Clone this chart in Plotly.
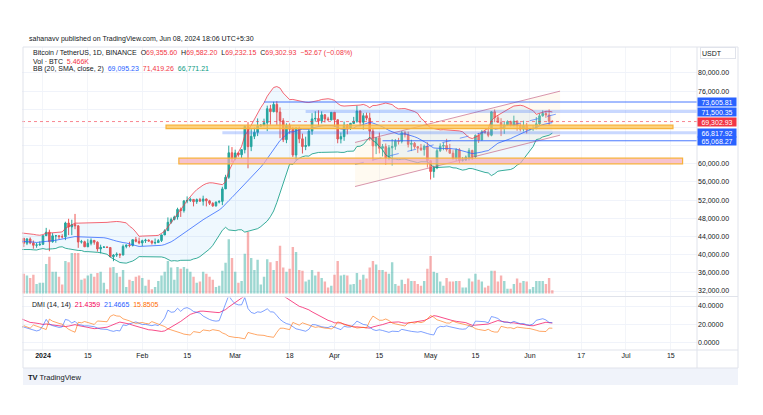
import numpy as np
import pandas as pd
import plotly.graph_objects as go

# ---------------- DATA (BTC/USDT daily, Binance) ----------------
start_date = "2023-11-15"

opens = [
    35540, 37880, 36160, 36590, 36590, 37380, 37470, 35760, 37420, 37290, 37720, 37800, 37450, 37240, 37830, 37860,
    37710, 38690, 39460, 39970, 41990, 44080, 43780, 43290, 44170, 43720, 43790, 41240, 41450, 42890, 43020, 41940,
    42260, 41370, 42660, 42270, 43650, 43860, 43990, 43740, 43020, 43610, 42520, 43440, 42580, 42070, 42140,
    42280, 44180, 44950, 42850, 44150, 44160, 43970, 43930, 46970, 46110, 46630, 46340, 42780, 42840, 41730, 42510,
    43140, 42740, 41260, 41620, 41660, 41580, 39560, 39900, 40080, 39930, 41820, 42120, 42030, 43300, 42940,
    42580, 43080, 43190, 43000, 42580, 42660, 43090, 44340, 45290, 47130, 47750, 48290, 49960, 49700, 51820, 51930,
    52160, 51660, 52120, 51780, 52260, 51850, 51300, 50740, 51570, 51730, 54480, 57040, 62430,
    61130, 62390, 61990, 63110, 68250, 63780, 66050, 66920, 68300, 68490, 69020, 72120, 71480, 73080, 71390, 69500,
    65300, 68390, 67610, 61940, 67840, 65500, 63800, 64020, 67210, 69880, 69990, 69450, 70780, 69890, 69660,
    71330, 69700, 65460, 65980, 68510, 67840, 68900, 69360, 71620, 69140, 70590, 70060, 67180, 63930, 65740, 63420,
    63790, 61280, 63510, 63840, 64990, 64940, 66840, 66410, 64280, 64500, 63770, 63460, 63120, 63860,
    60670, 58300, 59120, 62890, 63890, 64030, 63160, 62330, 61190, 63070, 60790, 60830, 61480, 62940, 61580, 66270,
    65230, 67050, 66940, 66280, 71450, 70140, 69120, 67930, 68530, 69280, 68500, 69400, 68370, 67630, 68350,
    67490, 67760, 67760, 68800, 70570, 71080, 70760, 69355.60,
]
highs = [
    37980, 37930, 36850, 36850, 37530, 37750, 37650, 37850, 37650, 38430, 37890, 37820, 37560, 38380, 38170, 38150,
    38970, 39650, 40210, 42410, 44490, 44300, 44050, 44700, 44370, 44040, 43850, 42100, 43430, 43400, 43090, 42720,
    42430, 42760, 43500, 44280, 44240, 44390, 43990, 43950, 43800, 43610, 43680, 43800, 43120, 42600, 42900,
    44180, 45900, 45500, 44730, 44340, 44230, 44500, 47250, 47900, 47700, 48970, 46500, 43250, 43070, 43400, 43580,
    43200, 42930, 42200, 41870, 41860, 41680, 40130, 40500, 40300, 42230, 42200, 42840, 43300, 43880, 43750,
    43290, 43500, 43380, 43120, 43550, 43420, 44400, 45600, 48200, 48170, 48590, 50330, 50370, 52040, 52820, 52570,
    52200, 52360, 52490, 52980, 52370, 52060, 51550, 51700, 51960, 54940, 57580, 64000, 63680,
    63110, 62430, 63230, 68500, 69170, 67640, 67970, 69990, 68700, 69940, 72800, 72970, 73650, 73780, 72420, 70040,
    68900, 68900, 68120, 68100, 68200, 66650, 65970, 67620, 71150, 71560, 71770, 71550, 70920, 70350, 71370,
    71340, 69710, 66900, 69290, 68720, 69000, 70330, 72800, 71760, 71170, 71260, 71230, 67930, 65840, 66870, 64360,
    64470, 64130, 65450, 65450, 65720, 67230, 67200, 67080, 65300, 64800, 63920, 64370, 64230, 64740,
    60780, 59600, 63330, 64500, 64650, 65500, 64390, 62990, 63410, 63450, 61490, 61820, 63450, 63100, 66450, 66800,
    67450, 67400, 67700, 71520, 71980, 70620, 70040, 69200, 69570, 69510, 70600, 69560, 68900, 69500, 69000,
    67860, 68460, 70280, 71060, 71760, 71630, 71990, 69582.20,
]
lows = [
    35360, 35500, 35870, 36160, 36300, 36700, 35630, 35660, 36870, 37250, 37600, 37150, 36750, 36870, 37570, 37500,
    37610, 38650, 39270, 39970, 41410, 43340, 42840, 43080, 43580, 43570, 40220, 40680, 40560, 41720, 41670, 41650,
    41250, 40530, 41800, 42170, 43290, 43400, 43300, 42770, 42720, 41680, 42100, 42300, 41300, 41520, 41970,
    42180, 44150, 40750, 42630, 42630, 43400, 43600, 43200, 44300, 44300, 45600, 41500, 42440, 41720, 41720, 42050,
    42200, 40680, 40280, 41470, 41450, 39430, 38560, 39500, 39260, 39820, 41400, 41620, 41800, 42700, 42280,
    41880, 42580, 42890, 42220, 42260, 42580, 42790, 44330, 45240, 46800, 47540, 47710, 48300, 49260, 51310, 51600,
    50630, 51170, 51680, 50800, 50620, 50930, 50520, 50580, 51280, 50900, 54450, 56690, 60360,
    60780, 61560, 61310, 62300, 59010, 62790, 65440, 66100, 68120, 68230, 67190, 68620, 71330, 68560, 65630, 64780,
    64540, 66600, 61500, 60780, 64530, 62260, 63000, 63790, 66380, 69280, 68380, 68900, 69100, 69580, 69570,
    68100, 64520, 64490, 65060, 66480, 67450, 68820, 69040, 68210, 67520, 69560, 65100, 60660, 62130, 62300, 61620,
    59770, 60800, 59600, 63080, 64240, 64500, 65800, 63600, 62800, 63300, 62400, 62810, 61800, 59190,
    56550, 56940, 58810, 62590, 62990, 62700, 62270, 60890, 60640, 60190, 60490, 60630, 60750, 60880, 61330, 64600,
    65110, 66600, 65860, 66060, 69160, 68980, 66100, 66600, 68500, 68220, 68230, 67270, 67130, 67120, 66670,
    67390, 67260, 67610, 68550, 70380, 70120, 68500, 69232.15,
]
closes = [
    37880, 36160, 36590, 36590, 37380, 37470, 35760, 37420, 37290, 37720, 37800, 37450, 37240, 37830, 37860, 37710,
    38690, 39460, 39970, 41990, 44080, 43780, 43290, 44170, 43720, 43790, 41240, 41450, 42890, 43020, 41940, 42260,
    41370, 42660, 42270, 43650, 43860, 43990, 43740, 43020, 43610, 42520, 43440, 42580, 42070, 42140, 42280,
    44180, 44950, 42850, 44150, 44160, 43970, 43930, 46970, 46110, 46630, 46340, 42780, 42840, 41730, 42510, 43140,
    42740, 41260, 41620, 41660, 41580, 39560, 39900, 40080, 39930, 41820, 42120, 42030, 43300, 42940, 42580,
    43080, 43190, 43000, 42580, 42660, 43090, 44340, 45290, 47130, 47750, 48290, 49960, 49700, 51820, 51930, 52160,
    51660, 52120, 51780, 52260, 51850, 51300, 50740, 51570, 51730, 54480, 57040, 62430, 61130,
    62390, 61990, 63110, 68250, 63780, 66050, 66920, 68300, 68490, 69020, 72120, 71480, 73080, 71390, 69500, 65300,
    68390, 67610, 61940, 67840, 65500, 63800, 64020, 67210, 69880, 69990, 69450, 70780, 69890, 69660, 71330,
    69700, 65460, 65980, 68510, 67840, 68900, 69360, 71620, 69140, 70590, 70060, 67180, 63930, 65740, 63420, 63790,
    61280, 63510, 63840, 64990, 64940, 66840, 66410, 64280, 64500, 63770, 63460, 63120, 63860, 60670,
    58300, 59120, 62890, 63890, 64030, 63160, 62330, 61190, 63070, 60790, 60830, 61480, 62940, 61580, 66270, 65230,
    67050, 66940, 66280, 71450, 70140, 69120, 67930, 68530, 69280, 68500, 69400, 68370, 67630, 68350, 67490,
    67760, 67760, 68800, 70570, 71080, 70760, 69355.60, 69302.93,
]

volume_start = "2023-12-26"
volumes_k = [
    33, 30, 26, 31, 16, 18,
    18, 49, 61, 36, 36, 28, 15, 54, 52, 67, 67, 67, 23, 25, 30, 33, 28, 34, 36, 18, 7, 43, 44, 34, 28, 39, 11, 23, 21, 28, 30,
    26, 13, 23, 7, 11, 21, 30, 36, 54, 43, 23, 44, 41, 44, 41, 36, 28, 18, 20, 36, 33, 28, 23, 11, 13, 38, 51, 90, 59,
    36, 18, 21, 66, 102, 59, 39, 56, 15, 28, 57, 52, 39, 54, 79, 43, 36, 41, 77, 69, 39, 38, 20, 23, 39, 30, 36, 26, 20, 10, 13,
    31, 54, 30, 31, 30, 15, 16, 34, 23, 31, 25, 43, 54, 48, 39, 39, 36, 33, 52, 16, 13, 23, 16, 25, 21, 21, 16, 13, 21, 41,
    62, 36, 34, 20, 13, 26, 20, 20, 21, 21, 10, 10, 25, 20, 33, 23, 20, 10, 13, 38, 38, 20, 30, 21, 8, 8, 16, 25, 18, 21, 20,
    7, 11, 21, 21, 21, 16, 26, 5.466,
]

# Drawings (price levels / zones)
h_levels = [73605.81, 71500.35, 66817.92, 65068.27]
h_level_starts = ["2024-03-10", "2024-03-23", "2024-02-26", "2024-04-16"]
h_level_strong = [True, False, False, True]
last_price = 69302.93
zone_upper = (67760, 68500, "2024-02-08 10:00", "2024-07-15 16:00")
zone_lower = (60000, 61250, "2024-02-12 10:00", "2024-07-18 16:00")
channel_dates = ["2024-04-07 10:00", "2024-06-10 10:00"]
channel_upper = [64700, 76000]
channel_width = 9700

tick_dates = ["2024-01-01", "2024-01-15", "2024-02-01", "2024-02-15", "2024-03-01", "2024-03-18", "2024-04-01",
              "2024-04-15", "2024-05-01", "2024-05-15", "2024-06-01", "2024-06-17", "2024-07-01", "2024-07-15"]
tick_labels = ["<b>2024</b>", "15", "Feb", "15", "Mar", "18", "Apr", "15", "May", "15", "Jun", "17", "Jul", "15"]
price_ticks = [32000, 36000, 40000, 44000, 48000, 52000, 56000, 60000, 64000, 68000, 72000, 76000, 80000]
hidden_price_ticks = [64000, 68000, 72000]
dmi_ticks = [0, 20, 40]

# ---------------- INDICATORS ----------------
dates = pd.date_range(start_date, periods=len(closes), freq="D")
O = np.array(opens, float); H = np.array(highs, float); L = np.array(lows, float); C = np.array(closes, float)
vdates = pd.date_range(volume_start, periods=len(volumes_k), freq="D")
vi = dates.get_loc(vdates[0])
vO = O[vi:]; vC = C[vi:]

cs = pd.Series(C)
basis = cs.rolling(20).mean()
dev = cs.rolling(20).std(ddof=0)
bb_up = basis + 2 * dev
bb_lo = basis - 2 * dev


def rma(x, n):
    out = np.full(len(x), np.nan)
    vals = []
    s = np.nan
    for i, v in enumerate(x):
        if np.isnan(v):
            continue
        if np.isnan(s):
            vals.append(v)
            if len(vals) == n:
                s = np.mean(vals)
                out[i] = s
        else:
            s = (v + (n - 1) * s) / n
            out[i] = s
    return out


n = len(C)
up = np.full(n, np.nan); dn = np.full(n, np.nan); tr = np.full(n, np.nan)
up[1:] = H[1:] - H[:-1]
dn[1:] = L[:-1] - L[1:]
tr[0] = H[0] - L[0]
tr[1:] = np.maximum(H[1:] - L[1:], np.maximum(abs(H[1:] - C[:-1]), abs(L[1:] - C[:-1])))
pdm = np.where(np.isnan(up), np.nan, np.where((up > dn) & (up > 0), up, 0.0))
mdm = np.where(np.isnan(dn), np.nan, np.where((dn > up) & (dn > 0), dn, 0.0))
atr = rma(tr, 14)
pdi = 100 * rma(pdm, 14) / atr
mdi = 100 * rma(mdm, 14) / atr
ssum = pdi + mdi
dx = np.abs(pdi - mdi) / np.where(ssum == 0, 1, ssum)
adx = 100 * rma(dx, 14)

# ---------------- FIGURE ----------------
W, Hh = 763, 415
L_M, R_M, T_M, B_M = 22, 66, 47, 65
PW = W - L_M - R_M
PH = Hh - T_M - B_M


def px(x):
    return (x - L_M) / PW


def py(y):
    return (Hh - B_M - y) / PH


GREEN = "#26a69a"; RED = "#ef5350"
FONT = "Liberation Sans, Arial, sans-serif"

fig = go.Figure()

# volume (bottom layer)
vcol = ["rgba(38,166,154,0.45)" if c >= o else "rgba(239,83,80,0.45)" for o, c in zip(vO, vC)]
fig.add_trace(go.Bar(x=vdates, y=volumes_k, marker=dict(color=vcol, line=dict(width=0)),
                     xaxis="x", yaxis="y", hoverinfo="skip"))

# channel fill
cu = channel_upper
fig.add_trace(go.Scatter(x=[channel_dates[0], channel_dates[1], channel_dates[1], channel_dates[0]],
                         y=[cu[0], cu[1], cu[1] - channel_width, cu[0] - channel_width],
                         fill="toself", fillcolor="rgba(255,236,200,0.25)", line=dict(width=0),
                         mode="lines", xaxis="x", yaxis="y2", hoverinfo="skip"))

# Bollinger bands
m = ~basis.isna().values
fig.add_trace(go.Scatter(x=dates[m], y=bb_up[m], mode="lines", line=dict(color="rgba(242,54,69,0.75)", width=1),
                         xaxis="x", yaxis="y2", hoverinfo="skip"))
fig.add_trace(go.Scatter(x=dates[m], y=bb_lo[m], mode="lines", line=dict(color="rgba(8,153,129,0.8)", width=1),
                         fill="tonexty", fillcolor="rgba(33,150,243,0.07)", xaxis="x", yaxis="y2", hoverinfo="skip"))
fig.add_trace(go.Scatter(x=dates[m], y=basis[m], mode="lines", line=dict(color="rgba(41,98,255,0.75)", width=1),
                         xaxis="x", yaxis="y2", hoverinfo="skip"))

# candles
fig.add_trace(go.Candlestick(x=dates, open=O, high=H, low=L, close=C,
                             increasing=dict(line=dict(color=GREEN, width=1), fillcolor=GREEN),
                             decreasing=dict(line=dict(color=RED, width=1), fillcolor=RED),
                             xaxis="x", yaxis="y2", hoverinfo="skip"))

# channel lines
fig.add_trace(go.Scatter(x=channel_dates, y=cu, mode="lines", line=dict(color="rgba(190,80,120,0.6)", width=1),
                         xaxis="x", yaxis="y2", hoverinfo="skip"))
fig.add_trace(go.Scatter(x=channel_dates, y=[v - channel_width for v in cu], mode="lines",
                         line=dict(color="rgba(190,80,120,0.6)", width=1), xaxis="x", yaxis="y2", hoverinfo="skip"))
fig.add_trace(go.Scatter(x=channel_dates, y=[v - channel_width / 2 for v in cu], mode="lines",
                         line=dict(color="rgba(41,98,255,0.6)", width=1, dash="dash"),
                         xaxis="x", yaxis="y2", hoverinfo="skip"))

# DMI
dm = ~np.isnan(adx)
fig.add_trace(go.Scatter(x=dates[dm], y=adx[dm], mode="lines", line=dict(color="rgba(245,0,87,0.7)", width=1),
                         xaxis="x", yaxis="y3", hoverinfo="skip"))
dm2 = ~np.isnan(pdi)
fig.add_trace(go.Scatter(x=dates[dm2], y=pdi[dm2], mode="lines", line=dict(color="rgba(41,98,255,0.6)", width=1),
                         xaxis="x", yaxis="y3", hoverinfo="skip"))
fig.add_trace(go.Scatter(x=dates[dm2], y=mdi[dm2], mode="lines", line=dict(color="rgba(255,109,0,0.6)", width=1),
                         xaxis="x", yaxis="y3", hoverinfo="skip"))

shapes = []
# zones
for (y0, y1, x0, x1), fillc in [(zone_upper, "rgba(255,196,80,0.75)"), (zone_lower, "rgba(244,170,185,0.7)")]:
    shapes.append(dict(type="rect", xref="x", yref="y2", x0=x0, x1=x1, y0=y0, y1=y1,
                       fillcolor=fillc, line=dict(color="#f7b23b", width=1.2), layer="above"))
# horizontal levels
for lv, st, strong in zip(h_levels, h_level_starts, h_level_strong):
    if strong:
        ln = dict(color="rgba(41,98,255,0.85)", width=1)
    else:
        ln = dict(color="rgba(41,98,255,0.25)", width=3)
    shapes.append(dict(type="line", xref="x", yref="y2", x0=st, x1="2024-07-23 04:00", y0=lv, y1=lv,
                       line=ln, layer="above"))
# last price line
shapes.append(dict(type="line", xref="paper", yref="y2", x0=0, x1=1, y0=last_price, y1=last_price,
                   line=dict(color="rgba(242,54,69,0.6)", width=1, dash="dot"), layer="above"))
# frame
frame_c = "#e0e3eb"
shapes.append(dict(type="rect", xref="paper", yref="paper", x0=px(23), x1=px(738), y0=py(47), y1=py(368),
                   line=dict(color=frame_c, width=1), fillcolor="rgba(0,0,0,0)", layer="above"))
shapes.append(dict(type="line", xref="paper", yref="paper", x0=px(697), x1=px(697), y0=py(47), y1=py(368),
                   line=dict(color=frame_c, width=1), layer="above"))
shapes.append(dict(type="line", xref="paper", yref="paper", x0=px(23), x1=px(738), y0=py(350), y1=py(350),
                   line=dict(color=frame_c, width=1), layer="above"))
shapes.append(dict(type="line", xref="paper", yref="paper", x0=px(23), x1=px(738), y0=py(296.5), y1=py(296.5),
                   line=dict(color=frame_c, width=1), layer="above"))
# footer band
shapes.append(dict(type="rect", xref="paper", yref="paper", x0=px(23), x1=px(738), y0=py(385), y1=py(368),
                   line=dict(width=0), fillcolor="#f0f3fa", layer="below"))

ann = []
TXT = "#131722"
ann.append(dict(xref="paper", yref="paper", x=px(26.5), y=py(39), xanchor="left", yanchor="middle", showarrow=False,
                text="sahanavv published on TradingView.com, Jun 08, 2024 18:06 UTC+5:30",
                font=dict(family=FONT, size=7, color=TXT)))
r = "#f23645"
ann.append(dict(xref="paper", yref="paper", x=px(31), y=py(53), xanchor="left", yanchor="middle", showarrow=False,
                text=("Bitcoin / TetherUS, 1D, BINANCE  O<span style='color:%s'>69,355.60</span>  "
                      "H<span style='color:%s'>69,582.20</span>  L<span style='color:%s'>69,232.15</span>  "
                      "C<span style='color:%s'>69,302.93</span>  <span style='color:%s'>−52.67 (−0.08%%)</span>")
                     % (r, r, r, r, r),
                font=dict(family=FONT, size=7, color=TXT)))
ann.append(dict(xref="paper", yref="paper", x=px(31), y=py(61.7), xanchor="left", yanchor="middle", showarrow=False,
                text="Vol · BTC  <span style='color:%s'>5.466K</span>" % r,
                font=dict(family=FONT, size=7, color=TXT)))
ann.append(dict(xref="paper", yref="paper", x=px(31), y=py(69.5), xanchor="left", yanchor="middle", showarrow=False,
                text=("BB (20, SMA, close, 2)  <span style='color:#2962ff'>69,095.23</span>  "
                      "<span style='color:#f23645'>71,419.26</span>  <span style='color:#089981'>66,771.21</span>"),
                font=dict(family=FONT, size=7, color=TXT)))
ann.append(dict(xref="paper", yref="paper", x=px(30), y=py(305), xanchor="left", yanchor="middle", showarrow=False,
                text=("DMI (14, 14)  <span style='color:#f50057'>21.4359</span>  "
                      "<span style='color:#2962ff'>21.4665</span>  <span style='color:#ff6d00'>15.8505</span>"),
                font=dict(family=FONT, size=7, color=TXT)))
# USDT box
ann.append(dict(xref="paper", yref="paper", x=px(700), y=py(53), xanchor="left", yanchor="middle", showarrow=False,
                text="USDT", width=32, height=8, align="left", bordercolor="#e0e3eb", borderwidth=1, borderpad=1,
                bgcolor="white", font=dict(family=FONT, size=7, color=TXT)))
# price labels
for lv in h_levels:
    ann.append(dict(xref="paper", yref="y2", x=1, y=lv, xanchor="left", yanchor="middle", showarrow=False,
                    text=f"{lv:,.2f}", width=38, height=8, borderpad=0, bgcolor="#2962ff",
                    font=dict(family=FONT, size=7, color="white")))
ann.append(dict(xref="paper", yref="y2", x=1, y=last_price, xanchor="left", yanchor="middle", showarrow=False,
                text=f"{last_price:,.2f}", width=38, height=8, borderpad=0, bgcolor="#f23645",
                font=dict(family=FONT, size=7, color="white")))
# footer logo
ann.append(dict(xref="paper", yref="paper", x=px(26), y=py(377), xanchor="left", yanchor="middle", showarrow=False,
                text="<b>TV</b> TradingView", font=dict(family=FONT, size=7.5, color=TXT)))

dom_price = [py(296.5) + 0.003, 1.0]
dom_dmi = [0.0, py(296.5) - 0.003]

fig.update_layout(
    width=W, height=Hh,
    margin=dict(l=L_M, r=R_M, t=T_M, b=B_M),
    paper_bgcolor="white", plot_bgcolor="white",
    showlegend=False, bargap=0.25,
    font=dict(family=FONT, size=7, color=TXT),
    xaxis=dict(type="date", range=["2023-12-25 10:48", "2024-07-23 04:00"], anchor="y3",
               tickmode="array", tickvals=tick_dates, ticktext=tick_labels,
               showgrid=True, gridcolor="#f3f5f9", zeroline=False, showline=False, ticks="", ticklen=0,
               tickfont=dict(family=FONT, size=7, color=TXT), rangeslider=dict(visible=False)),
    yaxis=dict(domain=dom_price, range=[-3.3, 408], visible=False, fixedrange=True),
    yaxis2=dict(overlaying="y", side="right", anchor="x", range=[30989, 85714],
                tickmode="array", tickvals=price_ticks,
                ticktext=["" if t in hidden_price_ticks else f"{t:,.2f}" for t in price_ticks],
                showgrid=True, gridcolor="#f0f3fa", zeroline=False, showline=False, ticks="", ticklen=0,
                tickfont=dict(family=FONT, size=7, color=TXT)),
    yaxis3=dict(domain=dom_dmi, side="right", anchor="x", range=[-7.9, 49.4],
                tickmode="array", tickvals=dmi_ticks, ticktext=[f"{t:.4f}" for t in dmi_ticks],
                showgrid=True, gridcolor="#f0f3fa", zeroline=False, showline=False, ticks="", ticklen=0,
                tickfont=dict(family=FONT, size=7, color=TXT)),
    shapes=shapes, annotations=ann,
)

fig.write_html("out.html", config={"displayModeBar": False},
               post_script="document.body.style.margin='0';document.body.style.overflow='hidden';")
